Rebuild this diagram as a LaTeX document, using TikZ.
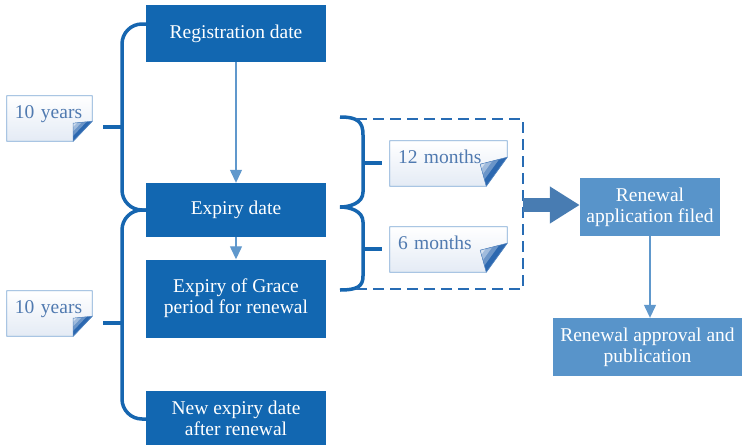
\documentclass[tikz,border=0pt]{standalone}
\usepackage{fontspec}
\setmainfont{Liberation Serif}
\usetikzlibrary{arrows.meta}
\usetikzlibrary{positioning}
\usetikzlibrary{calc}
\pgfdeclarelayer{background}
\pgfsetlayers{background,main}
\definecolor{datefill}{RGB}{18,103,177}
\definecolor{renewfill}{RGB}{88,148,202}
\definecolor{linkblue}{RGB}{96,152,204}
\definecolor{bracecol}{RGB}{22,102,176}
\definecolor{dashcol}{RGB}{40,108,180}
\definecolor{noteline}{RGB}{125,168,212}
\definecolor{notetext}{RGB}{80,122,176}
\definecolor{notebg}{RGB}{228,235,245}
\definecolor{foldcol}{RGB}{44,104,176}
\definecolor{arrowfill}{RGB}{72,124,178}
\tikzset{boxfont/.style = {font=\fontsize{19.5}{21}\selectfont}}
\tikzset{datebox/.style = {boxfont, fill=datefill, text=white, align=center,
                           minimum width=180pt, minimum height=#1, inner sep=0pt}}
\tikzset{renewbox/.style = {boxfont, fill=renewfill, text=white, align=center,
                            minimum height=58pt, inner sep=0pt}}
\tikzset{notebox/.style = {boxfont, text=notetext, align=left, text width=#1,
                           inner xsep=8pt, minimum height=45pt,
                           text height=9pt, text depth=9pt}}
\tikzset{link/.style = {draw=linkblue, line width=1.3pt,
                        -{Triangle[length=13pt,width=12pt]}}}
\tikzset{brace/.style = {draw=bracecol, line width=3.5pt}}
\tikzset{dashline/.style = {draw=dashcol, line width=1.2pt, dash pattern=on 11pt off 6pt}}
\tikzset{bigarrow/.style = {draw=arrowfill, line width=14pt,
                            -{Triangle[length=30pt,width=35pt]}}}

\begin{document}
\begin{tikzpicture}[x=1pt,y=-1pt]
	\useasboundingbox (0,0) rectangle (742,445);
	\node (reg) [datebox=57pt] at (236,33.5) {Registration date};
	\node (exp) [datebox=54pt] at (236,210) {Expiry date};
	\node (grace) [datebox=78pt] at (236,298.5) {Expiry of Grace\\period for renewal};
	\node (newexp) [datebox=54pt] at (236,418) {New expiry date\\after renewal};
	\node (filed) [renewbox, minimum width=140pt] at (650,207) {Renewal\\application filed};
	\node (approv) [renewbox, minimum width=189pt] at (647.5,347) {Renewal approval and\\publication};
	\node (yrsA) [notebox=69pt] at (49.5,118.5) {10 years};
	\node (yrsB) [notebox=69pt] at (49.5,313.5) {10 years};
	\node (mthA) [notebox=101pt] at (448.5,163.5) {12 months};
	\node (mthB) [notebox=101pt] at (448.5,249.5) {6 months};
	\foreach \n/\cx/\cy/\ix/\iy in {yrsA/19/20/19/18, yrsB/19/20/19/18,
	                                 mthA/21/29/27/22, mthB/21/29/27/22} {
		\begin{pgfonlayer}{background}
		\shade [draw=noteline, line width=0.8pt, top color=white, bottom color=notebg]
			(\n.north west) -- (\n.north east) -- ([yshift=\cy pt]\n.south east)
			-- ([xshift=-\cx pt]\n.south east) -- (\n.south west) -- cycle;
		\coordinate (fa) at ([yshift=\cy pt]\n.south east);
		\coordinate (fb) at ([xshift=-\cx pt]\n.south east);
		\coordinate (fc) at ([xshift=-\ix pt,yshift=\iy pt]\n.south east);
		\fill [foldcol] (fa) -- (fb) -- (fc) -- cycle;
		\fill [foldcol!70!white] (fc) -- ($(fc)!0.7!(fa)$) -- ($(fc)!0.7!(fb)$) -- cycle;
		\fill [foldcol!45!white] (fc) -- ($(fc)!0.45!(fa)$) -- ($(fc)!0.45!(fb)$) -- cycle;
		\fill [foldcol!20!white] (fc) -- ($(fc)!0.2!(fa)$) -- ($(fc)!0.2!(fb)$) -- cycle;
		\draw [foldcol!80, line width=0.5pt] (fa) -- (fb) -- (fc) -- cycle;
		\end{pgfonlayer}
	}
	\draw [link] (reg) -- (exp);
	\draw [link] (exp) -- (grace);
	\draw [link] (filed.south) -- (filed.south |- approv.north);
	\draw [brace, rounded corners=20pt] (146,24) -- (122,24) -- (122,210) -- (146,210);
	\draw [brace, rounded corners=20pt] (146,210) -- (122,210) -- (122,419) -- (146,419);
	\draw [brace] (103,127) -- (122,127);
	\draw [brace] (103,323) -- (122,323);
	\draw [brace] (340,117) .. controls (358,117) and (363,122) .. (363,135) -- (363,192)
		.. controls (363,203) and (350,207) .. (340,207)
		.. controls (350,207) and (363,211) .. (363,222) -- (363,276)
		.. controls (363,286) and (358,290) .. (340,290);
	\draw [brace] (363,163) -- (382,163);
	\draw [brace] (363,249) -- (382,249);
	\draw [dashline] (356,119) -- (523,119) -- (523,289) -- (356,289);
	\coordinate (gap) at (523,205);
	\draw [bigarrow] (gap) -- (gap -| filed.west);
\end{tikzpicture}
\end{document}
